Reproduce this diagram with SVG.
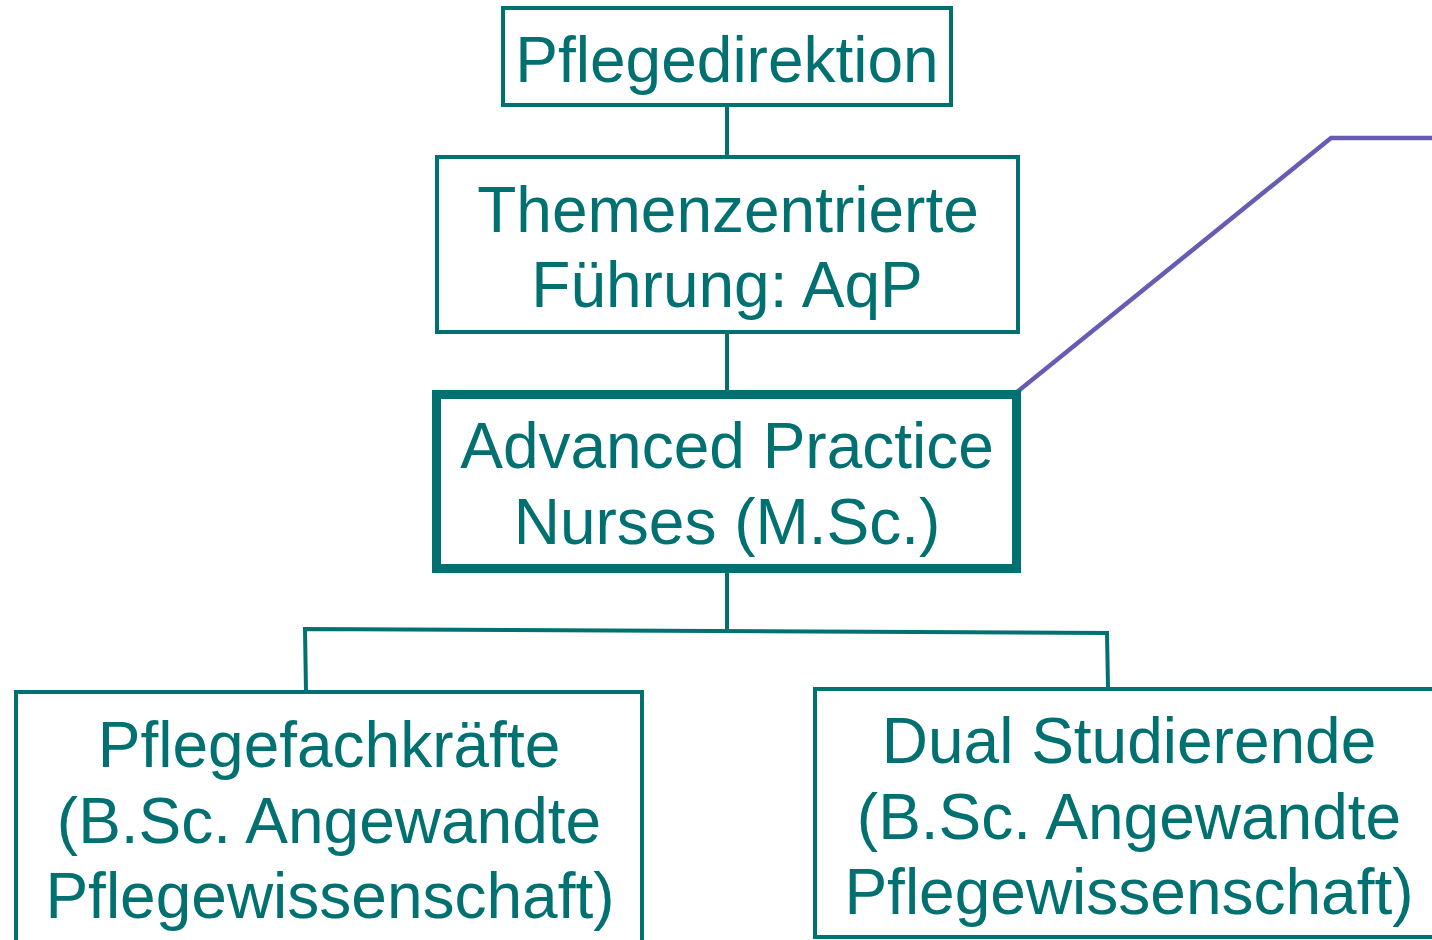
<svg xmlns="http://www.w3.org/2000/svg" width="1432" height="940" viewBox="0 0 1432 940">
<style>
.box{fill:#fff;stroke:#007170;stroke-width:4}
.thick{stroke-width:9}
.t{font-family:"Liberation Sans",Arial,sans-serif;font-size:64px;fill:#007170;text-anchor:middle}
.c{fill:none;stroke:#007170;stroke-width:4}
.p{fill:none;stroke:#675cb3;stroke-width:4.5}
</style>
<rect width="1432" height="940" fill="#fff"/>
<g id="connectors">
<line class="c" x1="727" y1="105" x2="727" y2="157"/>
<line class="c" x1="727" y1="332" x2="727" y2="390"/>
<line class="c" x1="727" y1="573" x2="727" y2="630"/>
<polyline class="c" points="306,692 305,629 1107,633 1108,688"/>
<polyline class="p" points="1017,392 1331,138 1432,138"/>
</g>
<g id="pflegedirektion">
<rect class="box" x="503" y="8" width="448" height="97"/>
<text class="t" x="727" y="82">Pflegedirektion</text>
</g>
<g id="themenzentrierte">
<rect class="box" x="437" y="157" width="581" height="175"/>
<text class="t" x="728" y="232">Themenzentrierte</text>
<text class="t" x="727" y="307">Führung: AqP</text>
</g>
<g id="apn">
<rect class="box thick" x="436.5" y="394.5" width="580" height="174"/>
<text class="t" x="727" y="468">Advanced Practice</text>
<text class="t" x="727" y="544">Nurses (M.Sc.)</text>
</g>
<g id="pflegefachkraefte">
<rect class="box" x="16" y="692" width="626" height="260"/>
<text class="t" x="329" y="767">Pflegefachkräfte</text>
<text class="t" x="329" y="843">(B.Sc. Angewandte</text>
<text class="t" x="330" y="918">Pflegewissenschaft)</text>
</g>
<g id="dual">
<rect class="box" x="815" y="689" width="640" height="248"/>
<text class="t" x="1129" y="763">Dual Studierende</text>
<text class="t" x="1129" y="839">(B.Sc. Angewandte</text>
<text class="t" x="1129" y="914">Pflegewissenschaft)</text>
</g>
</svg>
